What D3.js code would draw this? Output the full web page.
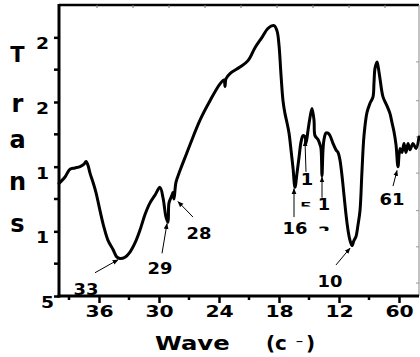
<!DOCTYPE html>
<html><head><meta charset="utf-8">
<script src="https://cdn.jsdelivr.net/npm/d3@7"></script>
<style>
body{margin:0;background:#fff}
text{font-family:"DejaVu Sans",sans-serif;font-weight:bold;fill:#000}
</style>
</head><body>
<svg id="c" width="420" height="357"></svg>
<script>
// ---- data ----
const wavenumbers = [4000,3940,3910,3890,3840,3790,3750,3730,3710,3690,3660,3630,3590,3550,3510,3460,3420,3390,3340,3290,3240,3190,3140,3090,3040,2990,2960,2930,2910,2900,2870,2860,2850,2830,2790,2740,2690,2590,2490,2390,2350,2340,2330,2290,2190,2110,2040,1970,1910,1850,1820,1800,1780,1760,1740,1720,1700,1680,1660,1640,1620,1600,1580,1560,1540,1530,1510,1490,1470,1450,1440,1410,1390,1380,1370,1360,1350,1330,1310,1290,1260,1230,1210,1190,1170,1150,1130,1110,1090,1070,1050,1030,1010,990,970,950,920,890,860,850,840,820,810,790,760,720,690,670,650,630,610,590,570,550,530,510,490,460,430,400];
const transmittance = [13.7,14.2,14.6,14.8,14.9,15.0,15.2,15.4,15.1,14.5,13.8,13.0,11.6,10.3,9.3,8.6,8.0,7.9,8.0,8.4,9.1,10.1,11.3,12.2,12.8,13.4,12.6,11.1,10.7,12.2,12.8,13.0,12.5,13.8,14.7,15.7,16.7,18.6,20.1,21.4,21.7,21.2,21.8,22.2,22.7,23.2,24.2,25.0,25.7,25.9,25.5,24.4,22.1,20.1,19.1,18.4,17.6,16.3,14.9,13.4,14.5,15.7,16.9,17.4,17.3,16.8,17.8,18.8,19.5,18.6,17.4,17.1,16.7,16.4,14.3,16.3,17.1,17.6,17.6,17.4,16.8,16.3,16.1,15.5,14.3,12.8,11.3,10.1,9.3,8.9,9.3,9.6,10.5,11.6,14.7,17.4,19.2,19.9,20.4,21.5,22.6,23.1,22.8,21.8,20.4,19.7,19.1,18.4,17.7,16.7,15.0,16.4,16.1,16.8,16.1,16.8,16.3,16.8,16.4,17.3];

const xTickValues = [3600,3000,2400,1800,1200,600];
const xTickLabels = ["36","30","24","18","12","60"];
const xMinorTicks = [3900,3300,2700,2100,1500,900];
const yTickValues = [5,10,15,20,25];
const yTickLabels = ["5","1","1","2","2"];
const yMinorTicks = [7.5,12.5,17.5,22.5];
const topTicks = [3620,3260,2900,2540,2180,1820,1460,1100,740];
const rightTicks = [23.1,20.1,17.3,14.5,11.6,8.8,6.0];

const peakLabels = ["33","29","28","16","1","1","10","61"];
const peakTips  = [[3410,7.8],[2920,10.6],[2810,12.3],[1650,13.3],[1540,17.0],[1370,14.2],[1090,8.7],[620,14.7]];
const peakTails = [[3640,6.8],[2970,8.3],[2660,11.1],[1650,11.1],[1530,14.6],[1370,12.6],[1230,7.4],[660,13.5]];
const peakTextAt = [[3730,5.55],[2990,7.1],[2600,9.85],[1640,10.2],[1520,14.0],[1350,12.05],[1290,6.15],[670,12.45]];
const fragmentText = ["5","3"];
const fragmentAt = [[1530,11.85],[1350,9.95]];

const yTitle = ["T","r","a","n","s"];
const xTitle = ["Wave","(c","⁻",")"];

// ---- layout ----
const svg = d3.select("#c");
const L=59, R=419, T=5, B=296;
const x = d3.scaleLinear().domain([4000,400]).range([L,R]);
const y = d3.scaleLinear().domain([5,27.5]).range([B,T]);

function txt(g, px, py, s, size, sx, anchor){
  return g.append("text")
    .attr("transform",`translate(${px},${py}) scale(${sx},1)`)
    .attr("text-anchor",anchor||"middle")
    .style("font-size",size+"px")
    .text(s);
}

// frame
svg.append("line").attr("x1",L).attr("x2",R).attr("y1",T).attr("y2",T)
  .attr("stroke","#000").attr("stroke-width",2.5);
svg.append("line").attr("x1",R).attr("x2",R).attr("y1",T).attr("y2",B)
  .attr("stroke","#888").attr("stroke-width",1);

svg.append("g").selectAll("line").data(topTicks).join("line")
  .attr("x1",d=>x(d)).attr("x2",d=>x(d)).attr("y1",T).attr("y2",T+3)
  .attr("stroke","#777").attr("stroke-width",1);
svg.append("g").selectAll("line").data(rightTicks).join("line")
  .attr("x1",R-3).attr("x2",R).attr("y1",d=>y(d)).attr("y2",d=>y(d))
  .attr("stroke","#999").attr("stroke-width",1);

// bottom axis
const gx = svg.append("g").attr("transform",`translate(0,${B})`)
  .call(d3.axisBottom(x).tickValues(xTickValues).tickSize(7)
    .tickFormat((d,i)=>xTickLabels[i]));
gx.select(".domain").remove();
gx.selectAll(".tick line").attr("stroke","#000").attr("stroke-width",2.5);
gx.selectAll(".tick text").attr("y",0).attr("dy",0)
  .attr("transform","translate(0,20.5) scale(1.27,1)")
  .style("font-size","16px").style("font-family","'DejaVu Sans',sans-serif").style("font-weight","bold");
svg.append("g").selectAll("line").data(xMinorTicks).join("line")
  .attr("x1",d=>x(d)).attr("x2",d=>x(d)).attr("y1",B).attr("y2",B+4)
  .attr("stroke","#000").attr("stroke-width",2.5);
svg.append("line").attr("x1",L-1.5).attr("x2",R).attr("y1",B).attr("y2",B)
  .attr("stroke","#000").attr("stroke-width",3);

// left axis
const gy = svg.append("g").attr("transform",`translate(${L},0)`)
  .call(d3.axisLeft(y).tickValues(yTickValues).tickSize(5)
    .tickFormat((d,i)=>yTickLabels[i]));
gy.select(".domain").remove();
gy.selectAll(".tick line").attr("stroke","#000").attr("stroke-width",2.5);
gy.selectAll(".tick text").attr("x",0).attr("dy",0)
  .attr("transform",d=>`translate(${d===5?-5:-10},11.5) scale(1.25,1)`)
  .style("font-size","15px").style("font-family","'DejaVu Sans',sans-serif").style("font-weight","bold");
svg.append("g").selectAll("line").data(yMinorTicks).join("line")
  .attr("x1",L-5).attr("x2",L).attr("y1",d=>y(d)).attr("y2",d=>y(d))
  .attr("stroke","#000").attr("stroke-width",2.5);
svg.append("line").attr("x1",L).attr("x2",L).attr("y1",T-1).attr("y2",B+1.5)
  .attr("stroke","#000").attr("stroke-width",3);

// spectrum
const pts = wavenumbers.map((w,i)=>[w,transmittance[i]]);
svg.append("path").datum(pts)
  .attr("fill","none").attr("stroke","#000").attr("stroke-width",3)
  .attr("stroke-linejoin","round").attr("stroke-linecap","round")
  .attr("d",d3.line().x(d=>x(d[0])).y(d=>y(d[1])).curve(d3.curveCatmullRom.alpha(0.5)));

// arrows
const defs = svg.append("defs");
defs.append("marker").attr("id","ah").attr("viewBox","0 0 10 10")
  .attr("refX",9).attr("refY",5).attr("markerWidth",6).attr("markerHeight",6)
  .attr("markerUnits","userSpaceOnUse").attr("orient","auto")
  .append("path").attr("d","M0,1L10,5L0,9Z").attr("fill","#000");
const ga = svg.append("g");
peakTips.forEach((tp,i)=>{
  const tl = peakTails[i];
  ga.append("line").attr("x1",x(tl[0])).attr("y1",y(tl[1]))
    .attr("x2",x(tp[0])).attr("y2",y(tp[1]))
    .attr("stroke","#000").attr("stroke-width",1).attr("marker-end","url(#ah)");
});
const gl = svg.append("g");
peakLabels.forEach((s,i)=>{
  const p = peakTextAt[i];
  txt(gl, x(p[0]), y(p[1]), s, 16, 1.12).attr("dominant-baseline","central");
});
fragmentText.forEach((s,i)=>{
  const p = fragmentAt[i];
  const cx = x(p[0]), cy = y(p[1]);
  defs.append("clipPath").attr("id","fc"+i).append("rect")
    .attr("x",cx-8).attr("y",cy-5.5).attr("width",16).attr("height",4.5);
  const g = svg.append("g").attr("clip-path",`url(#fc${i})`);
  txt(g, cx, cy, s, 16, 1.12).attr("dominant-baseline","central");
});

// y title
const yt = svg.append("g");
const yBase = [62,112,148,190,232];
yTitle.forEach((c,i)=>{ txt(yt, 17.5, yBase[i], c, i===0?21:24, 1); });

// x title
const xt = svg.append("g");
txt(xt, 155, 350, xTitle[0], 19, 1.28, "start");
txt(xt, 266, 350, xTitle[1], 19, 1.05, "start");
txt(xt, 299.5, 349, xTitle[2], 15, 1, "middle");
txt(xt, 306, 350, xTitle[3], 19, 1.05, "start");
</script>
</body></html>
